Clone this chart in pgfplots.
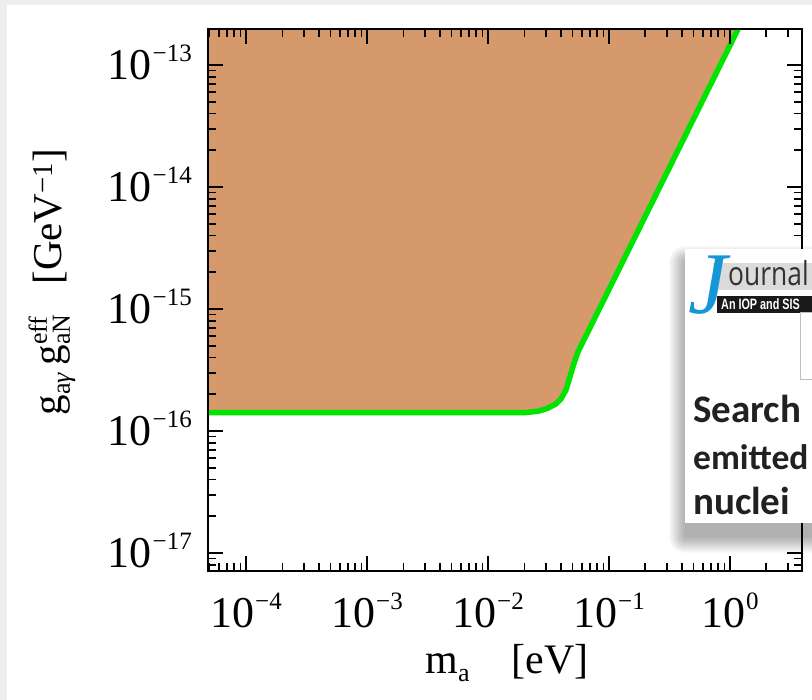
\documentclass[border=0pt]{standalone}
\usepackage{fontspec}
\setmainfont{Liberation Serif}
\newfontfamily\cardfont{Carlito}
\newfontfamily\cardsans[FakeStretch=0.8]{Open Sans}
\newfontfamily\cardbar[FakeStretch=0.72]{Liberation Sans}
\usepackage{pgfplots}
\pgfplotsset{compat=1.18}
\definecolor{tanfill}{RGB}{213,153,107}
\definecolor{limeline}{RGB}{0,228,0}
\definecolor{jblue}{RGB}{20,150,215}
\definecolor{framegray}{RGB}{238,238,238}
\newcommand{\tl}[1]{10\hspace{1pt}\raisebox{18pt}{\fontsize{25}{25}\selectfont #1}}
\newcommand{\sub}[1]{\raisebox{-8pt}{\fontsize{26}{26}\selectfont #1}}
\newcommand{\sups}[1]{\raisebox{15pt}{\fontsize{26}{26}\selectfont #1}}
\newcommand{\supsub}[2]{\rlap{\sups{#1}}\sub{#2}}

\begin{document}
\begin{tikzpicture}[x=1pt,y=1pt]
\useasboundingbox (0,0) rectangle (812,700);
\clip (0,0) rectangle (812,700);
\fill[white] (0,0) rectangle (812,700);
\fill[framegray] (0,0) rectangle (7,700);
\fill[framegray] (0,695) rectangle (812,700);

\begin{axis}[
  at={(208pt,129pt)}, anchor=south west,
  width=594pt, height=542pt, scale only axis,
  xmode=log, ymode=log,
  xmin=4.85e-5, xmax=3.94, ymin=7.1e-18, ymax=1.97e-13,
  xtick={1e-4,1e-3,1e-2,1e-1,1},
  xticklabels={\tl{−4},\tl{−3},\tl{−2},\tl{−1},\tl{0}},
  minor xtick={5e-5,6e-5,7e-5,8e-5,9e-5,
    2e-4,3e-4,4e-4,5e-4,6e-4,7e-4,8e-4,9e-4,
    2e-3,3e-3,4e-3,5e-3,6e-3,7e-3,8e-3,9e-3,
    2e-2,3e-2,4e-2,5e-2,6e-2,7e-2,8e-2,9e-2,
    2e-1,3e-1,4e-1,5e-1,6e-1,7e-1,8e-1,9e-1,
    2,3},
  ytick={1e-17,1e-16,1e-15,1e-14,1e-13},
  yticklabels={\tl{−17},\tl{−16},\tl{−15},\tl{−14},\tl{−13}},
  minor ytick={8e-18,9e-18,
    2e-17,3e-17,4e-17,5e-17,6e-17,7e-17,8e-17,9e-17,
    2e-16,3e-16,4e-16,5e-16,6e-16,7e-16,8e-16,9e-16,
    2e-15,3e-15,4e-15,5e-15,6e-15,7e-15,8e-15,9e-15,
    2e-14,3e-14,4e-14,5e-14,6e-14,7e-14,8e-14,9e-14},
  tick label style={font=\fontsize{44}{48}\selectfont, inner sep=0pt},
  xticklabel style={anchor=base, yshift=-56pt},
  yticklabel style={anchor=base east, xshift=-16pt, yshift=-15pt},
  axis on top,
  axis line style={line width=2.5pt},
  major tick length=15pt, minor tick length=8pt,
  major tick style={line width=2.5pt, black},
  minor tick style={line width=1.8pt, black},
  tick align=inside,
]
\addplot[fill=tanfill, draw=none] coordinates {
  (3e-5,1.41e-16) (0.0200,1.41e-16) (0.0260,1.45e-16) (0.0310,1.53e-16)
  (0.0360,1.65e-16) (0.0400,1.82e-16) (0.0440,2.15e-16) (0.0475,2.75e-16)
  (0.0510,3.50e-16) (0.0555,4.45e-16) (0.386,2.15e-14) (1.5,3.25e-13)
  (1.5,1e-12) (3e-5,1e-12)
} -- cycle;
\addplot[limeline, line width=5.5pt, line join=round, line cap=round] coordinates {
  (3e-5,1.41e-16) (0.0200,1.41e-16) (0.0260,1.45e-16) (0.0310,1.53e-16)
  (0.0360,1.65e-16) (0.0400,1.82e-16) (0.0440,2.15e-16) (0.0475,2.75e-16)
  (0.0510,3.50e-16) (0.0555,4.45e-16) (0.386,2.15e-14) (1.5,3.25e-13)
};
\end{axis}

% axis labels
\node[rotate=90, anchor=center, inner sep=0pt, font=\fontsize{41}{44}\selectfont]
  at (52,418) {g\sub{a\textit{γ}}\,g\supsub{eff}{aN}\hspace{30pt}[GeV\textsuperscript{−1}]};
\node[anchor=base, inner sep=0pt, font=\fontsize{42}{46}\selectfont]
  at (507,26) {m\sub{a}\quad[eV]};

% overlay card
\foreach \i in {0,...,16} {
  \fill[black, opacity=0.02, rounded corners=\i pt] (685-\i,163-\i) rectangle (840,438+\i);
}
\fill[white] (685,177) rectangle (830,451);
\fill[black!14] (713,410) rectangle (830,437);
\fill[black!90] (717,387) rectangle (830,404);
\node[anchor=base west, inner sep=0pt, text=jblue, font=\fontsize{88}{88}\selectfont\itshape] at (688,386) {J};
\node[anchor=base west, inner sep=0pt, text=black!80, font=\cardsans\fontsize{33}{33}\selectfont] at (728,414) {ournal};
\node[anchor=base west, inner sep=0pt, text=white, font=\cardbar\bfseries\fontsize{15}{15}\selectfont] at (721,390) {An IOP and SIS};
\draw[black!25, line width=1pt] (800,320) rectangle (830,387);
\node[anchor=base west, inner sep=0pt, text=black!87, font=\cardfont\bfseries\fontsize{39}{39}\selectfont] at (693,277) {Search};
\node[anchor=base west, inner sep=0pt, text=black!87, font=\cardfont\bfseries\fontsize{35.5}{36}\selectfont] at (693,230) {emitted};
\node[anchor=base west, inner sep=0pt, text=black!87, font=\cardfont\bfseries\fontsize{39}{39}\selectfont] at (693,185) {nuclei};
\end{tikzpicture}
\end{document}
